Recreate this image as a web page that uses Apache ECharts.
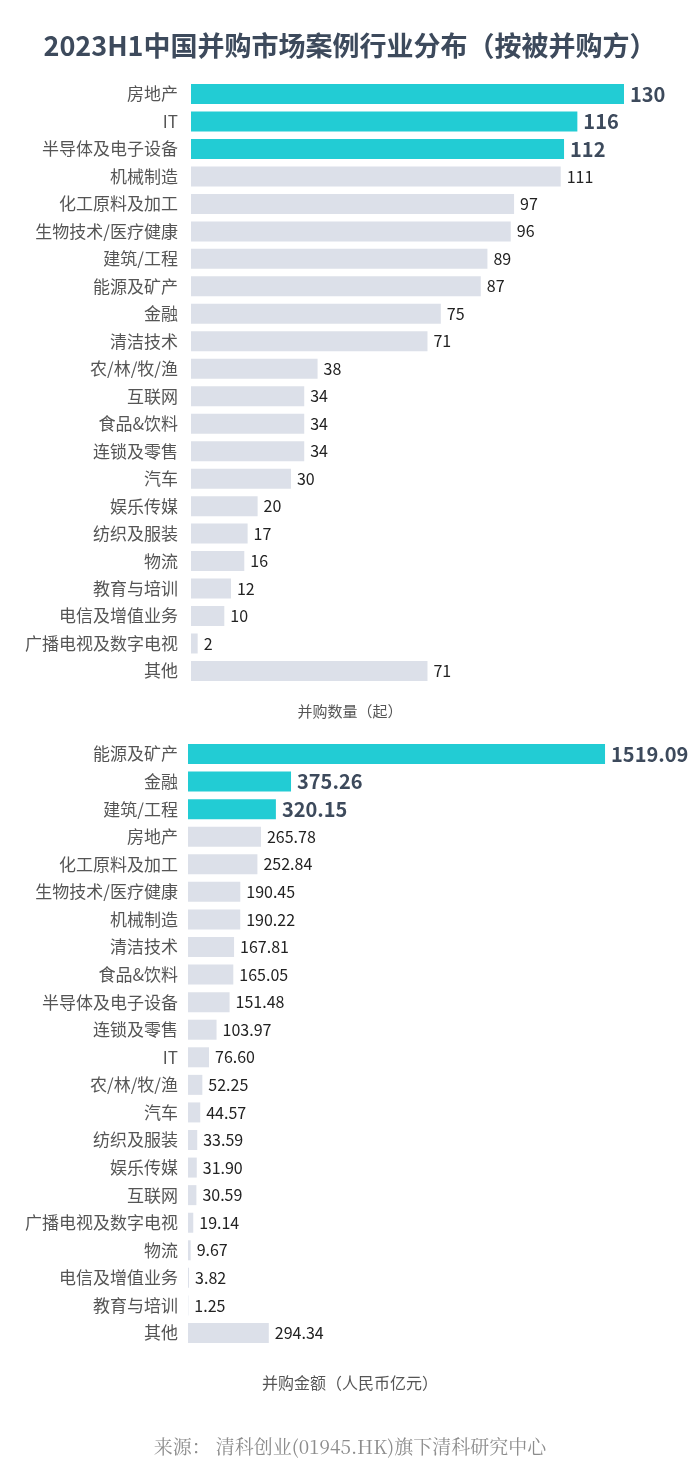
<!DOCTYPE html>
<html><head><meta charset="utf-8">
<script src="https://cdn.jsdelivr.net/npm/echarts@6/dist/echarts.min.js"></script>
<style>html,body{margin:0;padding:0;background:#fff}#c{width:700px;height:1470px}</style>
</head><body><div id="c"></div>
<script>
const countCategories = ['房地产','IT','半导体及电子设备','机械制造','化工原料及加工','生物技术/医疗健康','建筑/工程','能源及矿产','金融','清洁技术','农/林/牧/渔','互联网','食品&饮料','连锁及零售','汽车','娱乐传媒','纺织及服装','物流','教育与培训','电信及增值业务','广播电视及数字电视','其他'];
const countValues = [130,116,112,111,97,96,89,87,75,71,38,34,34,34,30,20,17,16,12,10,2,71];
const amountCategories = ['能源及矿产','金融','建筑/工程','房地产','化工原料及加工','生物技术/医疗健康','机械制造','清洁技术','食品&饮料','半导体及电子设备','连锁及零售','IT','农/林/牧/渔','汽车','纺织及服装','娱乐传媒','互联网','广播电视及数字电视','物流','电信及增值业务','教育与培训','其他'];
const amountValues = [1519.09,375.26,320.15,265.78,252.84,190.45,190.22,167.81,165.05,151.48,103.97,76.60,52.25,44.57,33.59,31.90,30.59,19.14,9.67,3.82,1.25,294.34];
const highlightTop = 3;
const titleText = '2023H1中国并购市场案例行业分布（按被并购方）';
const countAxisName = '并购数量（起）';
const amountAxisName = '并购金额（人民币亿元）';
const sourceText = '来源： 清科创业(01945.HK)旗下清科研究中心';

const HI = '#22CCD4', LO = '#DCE0E9';
const font = '"Noto Sans CJK SC","Noto Sans",sans-serif';
function mkData(vals, decimals){
  return vals.map((v,i)=>{
    const hi = i < highlightTop;
    return {value:v, itemStyle:{color: hi?HI:LO},
      label:{formatter: decimals? v.toFixed(2): String(v),
        fontWeight: hi?'bold':'normal', fontSize: hi?20:16, color: hi?'#3D4A5C':'#222'}};
  });
}
const chart = echarts.init(document.getElementById('c'));
chart.setOption({
  backgroundColor:'#fff',
  textStyle:{fontFamily:font},
  title:[
    {text:titleText, left:'center', top:27, textStyle:{fontSize:27, fontWeight:'bold', color:'#3D4A5C', fontFamily:font}},
    {text:countAxisName, left:'center', top:699, textStyle:{fontSize:15, fontWeight:'normal', color:'#555', fontFamily:font}},
    {text:amountAxisName, left:'center', top:1370, textStyle:{fontSize:16, fontWeight:'normal', color:'#555', fontFamily:font}},
    {text:sourceText, left:'center', top:1432, textStyle:{fontSize:19, fontWeight:'normal', color:'#8C8C8C', fontFamily:'"Noto Serif CJK SC",serif'}}
  ],
  grid:[
    {left:191, width:466.3, top:80.3, height:604.4},
    {left:188, width:466.7, top:740.2, height:606.6}
  ],
  xAxis:[
    {gridIndex:0, type:'value', min:0, max:140, show:false},
    {gridIndex:1, type:'value', min:0, max:1700, show:false}
  ],
  yAxis:[
    {gridIndex:0, type:'category', inverse:true, data:countCategories,
     axisLine:{show:false}, axisTick:{show:false},
     axisLabel:{color:'#555', fontSize:17, margin:13, fontFamily:font}},
    {gridIndex:1, type:'category', inverse:true, data:amountCategories,
     axisLine:{show:false}, axisTick:{show:false},
     axisLabel:{color:'#555', fontSize:17, margin:10, fontFamily:font}}
  ],
  series:[
    {type:'bar', xAxisIndex:0, yAxisIndex:0, barWidth:20, data:mkData(countValues,false),
     label:{show:true, position:'right', distance:6, fontFamily:font}},
    {type:'bar', xAxisIndex:1, yAxisIndex:1, barWidth:20, data:mkData(amountValues,true),
     label:{show:true, position:'right', distance:6, fontFamily:font}}
  ]
});
</script></body></html>
